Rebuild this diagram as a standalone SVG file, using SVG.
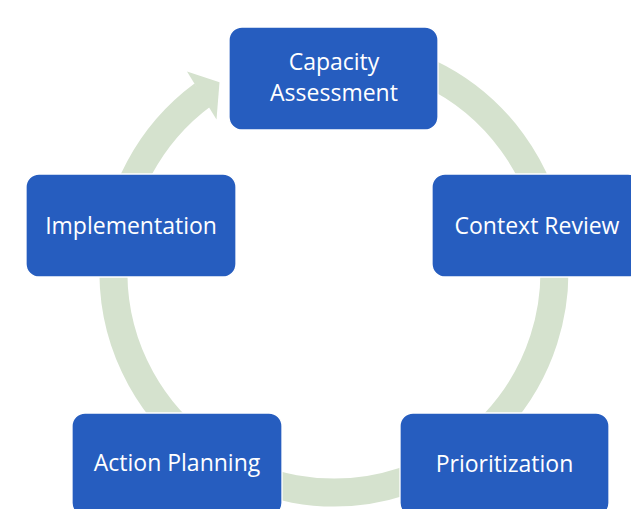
<svg xmlns="http://www.w3.org/2000/svg" width="631" height="509" viewBox="0 0 631 509">
<style>
.node rect{fill:#265DBF;stroke:#ffffff;stroke-width:1.3}
.node text{font-family:"Open Sans","Noto Sans",sans-serif;font-size:23px;fill:#ffffff;text-anchor:middle}
.ring{fill:none;stroke:#D5E2CE;stroke-width:28;stroke-linecap:butt}
.head{fill:#D5E2CE}
</style>
<rect width="631" height="509" fill="#ffffff"/>
<g id="connectors">
<path class="ring" d="M334 51.5 A220.5 220.5 0 1 1 202.8 94.7"/>
<polygon class="head" points="187,71.5 219.5,82.3 216.5,119.5"/>
</g>
<g id="capacity-assessment" class="node">
<rect x="229" y="27" width="209" height="103" rx="13"/>
<text x="334" y="70">Capacity</text>
<text x="334" y="101">Assessment</text>
</g>
<g id="context-review" class="node">
<rect x="432" y="174" width="209" height="103" rx="13"/>
<text x="537" y="234">Context Review</text>
</g>
<g id="prioritization" class="node">
<rect x="400" y="413" width="209" height="103" rx="13"/>
<text x="504.5" y="471.5">Prioritization</text>
</g>
<g id="action-planning" class="node">
<rect x="72" y="413" width="210" height="103" rx="13"/>
<text x="177" y="471">Action Planning</text>
</g>
<g id="implementation" class="node">
<rect x="26" y="174" width="210" height="103" rx="13"/>
<text x="131" y="234">Implementation</text>
</g>
</svg>
